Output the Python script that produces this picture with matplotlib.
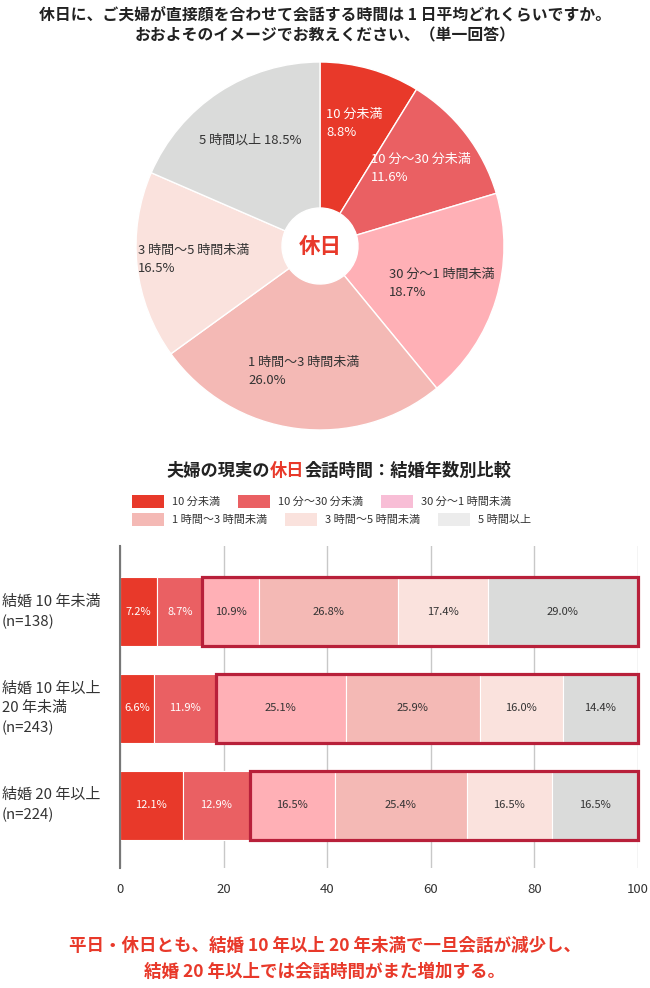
import numpy as np
import matplotlib.pyplot as plt
from matplotlib.patches import Rectangle, Patch
from matplotlib.offsetbox import TextArea, HPacker, AnnotationBbox

plt.rcParams['font.family'] = ['Noto Sans CJK JP', 'DejaVu Sans']

# data
categories = ["10 分未満", "10 分～30 分未満", "30 分～1 時間未満",
              "1 時間～3 時間未満", "3 時間～5 時間未満", "5 時間以上"]
holiday_pct = [8.8, 11.6, 18.7, 26.0, 16.5, 18.5]

groups = ["結婚 10 年未満\n(n=138)", "結婚 10 年以上\n20 年未満\n(n=243)", "結婚 20 年以上\n(n=224)"]
group_pct = np.array([
    [7.2, 8.7, 10.9, 26.8, 17.4, 29.0],
    [6.6, 11.9, 25.1, 25.9, 16.0, 14.4],
    [12.1, 12.9, 16.5, 25.4, 16.5, 16.5],
])
xticks = [0, 20, 40, 60, 80, 100]

colors = ["#E8392A", "#EA6063", "#FFB0B6", "#F4B9B5", "#FAE2DD", "#DADBDA"]
legend_colors = ["#E8392A", "#EA6063", "#F8BED6", "#F4B9B5", "#FAE2DD", "#ECECEC"]
label_colors = ["white", "white", "#333333", "#333333", "#333333", "#333333"]
red = "#E8392A"
box_red = "#B8203A"

fig = plt.figure(figsize=(6.5, 9.88), dpi=100)

fig.text(0.5, 1 - 14 / 988, "休日に、ご夫婦が直接顔を合わせて会話する時間は 1 日平均どれくらいですか。",
         ha="center", va="center", fontsize=11.4, fontweight="bold", color="#222222")
fig.text(0.5, 1 - 35 / 988, "おおよそのイメージでお教えください、（単一回答）",
         ha="center", va="center", fontsize=11.4, fontweight="bold", color="#222222")

# pie
axp = fig.add_axes([130 / 650, 1 - 436 / 988, 380 / 650, 380 / 988])
wedges, _ = axp.pie(holiday_pct, colors=colors, startangle=90, counterclock=False,
                    radius=1, wedgeprops=dict(width=1 - 38 / 184, edgecolor="white", linewidth=1))
axp.set_xlim(-190 / 184, 190 / 184)
axp.set_ylim(-190 / 184, 190 / 184)
axp.set_aspect("equal")
axp.axis("off")
for i, w in enumerate(wedges):
    mid = np.deg2rad((w.theta1 + w.theta2) / 2)
    sep = " " if i == len(wedges) - 1 else "\n"
    txt = f"{categories[i]}{sep}{holiday_pct[i]:.1f}%"
    axp.text(0.69 * np.cos(mid), 0.69 * np.sin(mid), txt, ha="center", va="center",
             multialignment="left", fontsize=9.4, color=label_colors[i], linespacing=1.5)
axp.text(0, 0, "休日", ha="center", va="center", fontsize=15.5, fontweight="bold", color=red)

# bar chart title with red part
parts = [("夫婦の現実の", "#222222"), ("休日", red), ("会話時間：結婚年数別比較", "#222222")]
boxes = [TextArea(t, textprops=dict(fontsize=12.4, fontweight="bold", color=c)) for t, c in parts]
pack = HPacker(children=boxes, pad=0, sep=0)
fig.add_artist(AnnotationBbox(pack, (339 / 650, 1 - 471 / 988), xycoords="figure fraction",
                              frameon=False, box_alignment=(0.5, 0.5)))

# legend in two rows
for r in range(2):
    handles = [Patch(facecolor=legend_colors[k], edgecolor="none") for k in range(3 * r, 3 * r + 3)]
    fig.legend(handles, categories[3 * r:3 * r + 3], loc="upper left",
               bbox_to_anchor=(132 / 650, 1 - (495 + 18 * r) / 988), ncol=3, frameon=False,
               fontsize=8, handlelength=2.9, handleheight=1.4, handletextpad=0.7,
               columnspacing=1.6, borderpad=0, borderaxespad=0, labelcolor="#333333")

# stacked bars
axb = fig.add_axes([120 / 650, 1 - 868 / 988, 518 / 650, 322 / 988])
y = np.arange(len(groups))
h = 0.715
left = np.zeros(len(groups))
for k in range(len(categories)):
    vals = group_pct[:, k]
    axb.barh(y, vals, left=left, height=h, color=colors[k], edgecolor="white", linewidth=0.8, zorder=2)
    for i in range(len(groups)):
        axb.text(left[i] + vals[i] / 2, y[i], f"{vals[i]:.1f}%", ha="center", va="center",
                 fontsize=8, color=label_colors[k], zorder=4)
    left += vals

for i in range(len(groups)):
    start = group_pct[i, :2].sum()
    axb.add_patch(Rectangle((start, y[i] - h / 2), 100 - start, h, fill=False,
                            edgecolor=box_red, linewidth=2.3, zorder=5, clip_on=False))

axb.set_xlim(0, 100)
axb.set_ylim(2.65, -0.68)
axb.set_xticks(xticks)
axb.set_yticks(y)
axb.set_yticklabels([])
axb.tick_params(axis="both", length=0, labelsize=9.5, colors="#333333")
axb.tick_params(axis="x", pad=11)
axb.grid(axis="x", color="#C8C8C8", linewidth=1, zorder=0)
for s in ["top", "right", "bottom"]:
    axb.spines[s].set_visible(False)
axb.spines["left"].set_color("#777777")
axb.spines["left"].set_linewidth(1.5)
axb.spines["left"].set_zorder(3)

for i, g in enumerate(groups):
    axb.text(-118 / 518 * 100, y[i], g, ha="left", va="center", fontsize=10.8,
             color="#333333", linespacing=1.5)

fig.text(0.5, 1 - 946 / 988, "平日・休日とも、結婚 10 年以上 20 年未満で一旦会話が減少し、",
         ha="center", va="center", fontsize=12.6, fontweight="bold", color=red)
fig.text(0.5, 1 - 972 / 988, "結婚 20 年以上では会話時間がまた増加する。",
         ha="center", va="center", fontsize=12.6, fontweight="bold", color=red)

fig.savefig("out.png", dpi=100)
